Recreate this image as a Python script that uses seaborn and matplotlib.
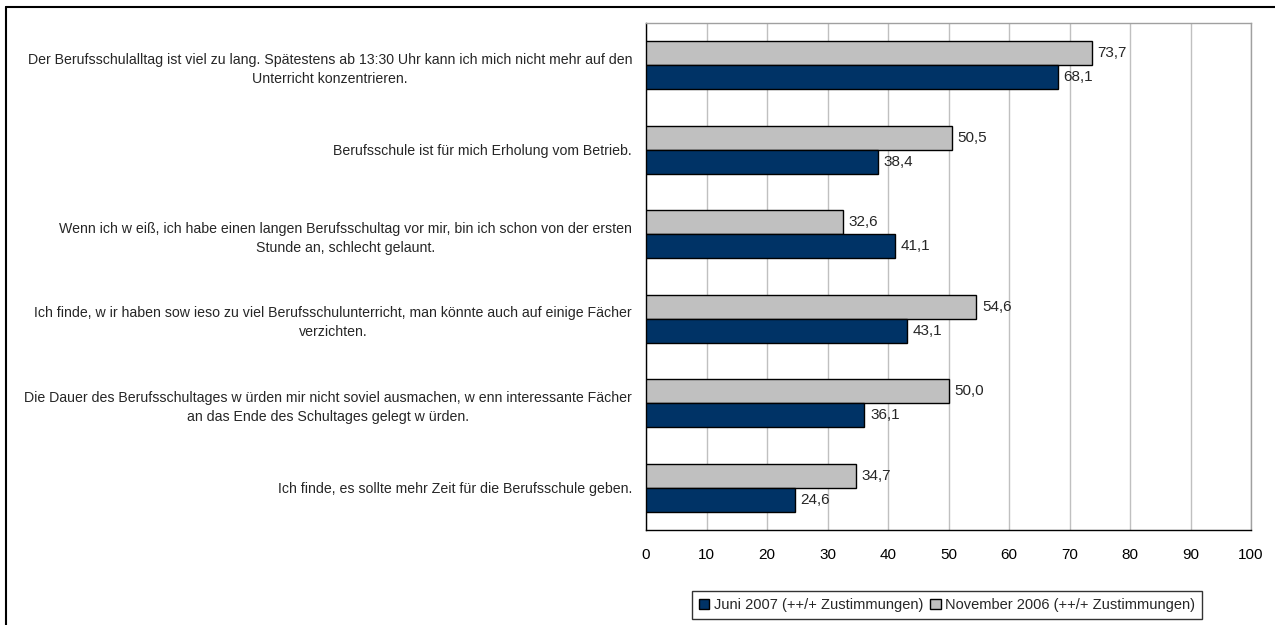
import matplotlib
matplotlib.use("Agg")
import matplotlib.pyplot as plt
from matplotlib import font_manager
from matplotlib.lines import Line2D
from matplotlib.patches import Patch
import seaborn as sns
import pandas as pd
import numpy as np

categories = [
    "Der Berufsschulalltag ist viel zu lang. Spätestens ab 13:30 Uhr kann ich mich nicht mehr auf den\nUnterricht konzentrieren.",
    "Berufsschule ist für mich Erholung vom Betrieb.",
    "Wenn ich w eiß, ich habe einen langen Berufsschultag vor mir, bin ich schon von der ersten\nStunde an, schlecht gelaunt.",
    "Ich finde, w ir haben sow ieso zu viel Berufsschulunterricht, man könnte auch auf einige Fächer\nverzichten.",
    "Die Dauer des Berufsschultages w ürden mir nicht soviel ausmachen, w enn interessante Fächer\nan das Ende des Schultages gelegt w ürden.",
    "Ich finde, es sollte mehr Zeit für die Berufsschule geben.",
]
nov_2006 = [73.7, 50.5, 32.6, 54.6, 50.0, 34.7]
jun_2007 = [68.1, 38.4, 41.1, 43.1, 36.1, 24.6]
series_names = ["November 2006 (++/+ Zustimmungen)", "Juni 2007 (++/+ Zustimmungen)"]
legend_order = ["Juni 2007 (++/+ Zustimmungen)", "November 2006 (++/+ Zustimmungen)"]
x_ticks = [0, 10, 20, 30, 40, 50, 60, 70, 80, 90, 100]

colors = {series_names[0]: "#C0C0C0", series_names[1]: "#003366"}

available = {f.name for f in font_manager.fontManager.ttflist}
fam = "Liberation Sans Narrow" if "Liberation Sans Narrow" in available else "Liberation Sans"

sns.set_style("white")
plt.rcParams["font.family"] = [fam, "DejaVu Sans"]

df = pd.DataFrame({
    "cat": categories * 2,
    "val": nov_2006 + jun_2007,
    "series": [series_names[0]] * len(categories) + [series_names[1]] * len(categories),
})

fig = plt.figure(figsize=(12.75, 6.25), dpi=100)
ax = fig.add_axes([646 / 1275, 1 - 530 / 625, (1251 - 646) / 1275, (530 - 23) / 625])

sns.barplot(data=df, y="cat", x="val", hue="series", order=categories,
            hue_order=series_names, palette=colors, orient="h", width=0.57,
            saturation=1, edgecolor="black", linewidth=1.0, ax=ax, legend=False, zorder=3)

ax.set_xlim(0, 100)
ax.set_ylim(len(categories) - 0.5, -0.5)
ax.set_xticks(x_ticks)
ax.set_xticklabels([str(t) for t in x_ticks], fontsize=11)
ax.set_ylabel("")
ax.set_xlabel("")
ax.tick_params(axis="y", length=0, pad=10, labelsize=10.2)
ax.tick_params(axis="x", length=5, width=1, direction="out", pad=8, colors="black")
ax.set_yticks(np.arange(-0.5, len(categories) + 0.5, 1.0), minor=True)
ax.tick_params(axis="y", which="minor", length=5, width=1, direction="out")
for lbl in ax.get_yticklabels():
    lbl.set_multialignment("center")
    lbl.set_linespacing(1.45)

ax.grid(axis="x", color="#C0C0C0", linewidth=1, zorder=0)
ax.grid(axis="y", visible=False)
ax.set_axisbelow(True)
for side in ["top", "right"]:
    ax.spines[side].set_color("#A0A0A0")
    ax.spines[side].set_linewidth(1)
for side in ["left", "bottom"]:
    ax.spines[side].set_color("black")
    ax.spines[side].set_linewidth(1)

for cont in ax.containers:
    labels = [f"{v:.1f}".replace(".", ",") for v in cont.datavalues]
    ax.bar_label(cont, labels=labels, padding=4, fontsize=11)

handles = [Patch(facecolor=colors[n], edgecolor="black", linewidth=1) for n in legend_order]
leg = ax.legend(handles, legend_order, loc="center", bbox_to_anchor=(0.4975, -0.148),
                ncol=2, frameon=True, fancybox=False, edgecolor="black", fontsize=10.5,
                handlelength=0.7, handleheight=0.7, handletextpad=0.3, columnspacing=0.5,
                borderpad=0.5, borderaxespad=0)
leg.get_frame().set_linewidth(1)

# outer chart frame (only top and left edges visible in crop)
fig.add_artist(Line2D([6 / 1275, 1.0], [1 - 7 / 625, 1 - 7 / 625], color="black", linewidth=1.5, transform=fig.transFigure))
fig.add_artist(Line2D([6 / 1275, 6 / 1275], [0.0, 1 - 7 / 625], color="black", linewidth=1.5, transform=fig.transFigure))

fig.savefig("out.png", dpi=100)
